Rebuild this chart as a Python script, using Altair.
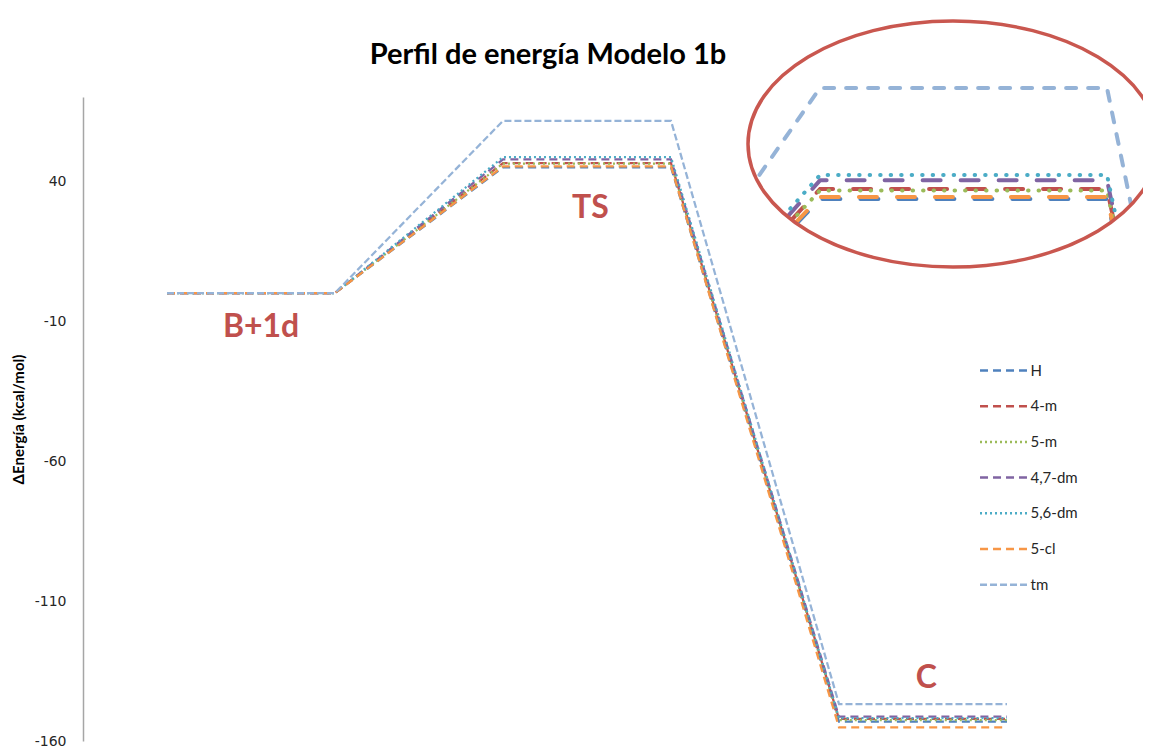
import altair as alt
import pandas as pd

# ---------------- data ----------------
series = ["H", "4-m", "5-m", "4,7-dm", "5,6-dm", "5-cl", "tm"]
colors = ["#4F81BD", "#C0504D", "#9BBB59", "#8064A2", "#4BACC6", "#F79646", "#95B3D7"]
dashes = [[8, 5], [8, 5], [2, 3], [8, 5], [2, 3], [8, 5], [7, 3]]
inset_dashes = [[18, 20], [18, 20], [0.5, 10], [18, 20], [0.5, 10], [18, 20], [10, 12]]

stage_x = [0, 1, 2, 3, 4, 5]
e_b1d = [0, 0, 0, 0, 0, 0, 0]
e_ts = [44.9, 46.4, 46.2, 47.7, 48.5, 45.2, 61.5]
e_c = [-153.1, -152.1, -152.5, -151.3, -151.8, -155.1, -146.8]

stage_labels = ["B+1d", "TS", "C"]
stage_label_x = [0.56, 2.52, 4.52]
stage_label_y = [-12.1, 30.4, -137.5]

y_ticks = [-160, -110, -60, -10, 40]
title_text = "Perfil de energía Modelo 1b"
y_title = "ΔEnergía (kcal/mol)"

rows = []
for i, s in enumerate(series):
    vals = [e_b1d[i], e_b1d[i], e_ts[i], e_ts[i], e_c[i], e_c[i]]
    for x, v in zip(stage_x, vals):
        rows.append({"serie": s, "x": x, "E": v})
df = pd.DataFrame(rows)
lab_df = pd.DataFrame({"lab": stage_labels, "x": stage_label_x, "E": stage_label_y})
one = pd.DataFrame({"t": [title_text]})

W, H = 1008, 644

legend_kw = dict(
    title=None, orient="none", legendX=909, legendY=262,
    symbolType="M -2.3,0 L 2.3,0", symbolSize=417, symbolStrokeWidth=2.5,
    labelFont="Lato", labelFontSize=15, labelColor="#262626",
    labelOffset=15.5, rowPadding=15.7, padding=0,
)

main_lines = alt.Chart(df).mark_line(strokeWidth=2.25).encode(
    x=alt.X("x:Q", scale=alt.Scale(domain=[-0.5, 5.5], nice=False, zero=False), axis=None),
    y=alt.Y(
        "E:Q",
        scale=alt.Scale(domain=[-160, 70], nice=False, zero=False),
        axis=alt.Axis(
            values=y_ticks, title=y_title, ticks=False, grid=False,
            labelExpr="'' + datum.value",
            domainColor="#A6A6A6", domainWidth=1.5,
            labelFont="DejaVu Sans", labelFontSize=14, labelColor="#262626", labelPadding=17,
            titleFont="Lato", titleFontWeight="bold", titleFontSize=15, titleColor="#000000",
            titleAngle=270, titleX=-65, titleY=H / 2, titleAlign="center", titleBaseline="middle",
            zindex=1,
        ),
    ),
    color=alt.Color("serie:N", scale=alt.Scale(domain=series, range=colors), legend=alt.Legend(**legend_kw)),
    strokeDash=alt.StrokeDash("serie:N", scale=alt.Scale(domain=series, range=dashes), legend=alt.Legend(**legend_kw)),
)

labels = alt.Chart(lab_df).mark_text(
    font="Lato", fontWeight="bold", fontSize=32, color="#C0504D", baseline="middle", align="center"
).encode(x="x:Q", y="E:Q", text="lab:N")

inset = alt.Chart(df).transform_filter("datum.x >= 1 && datum.x <= 4").mark_line(
    strokeWidth=4, strokeCap="round"
).encode(
    x=alt.X("x:Q", scale=alt.Scale(domain=[2, 3], range=[737, 1024], nice=False, zero=False), axis=None),
    y=alt.Y("E:Q", scale=alt.Scale(domain=[40, 60], range=[134.9, 1.0], nice=False, zero=False), axis=None),
    color=alt.Color("serie:N", scale=alt.Scale(domain=series, range=colors), legend=None),
    strokeDash=alt.StrokeDash("serie:N", scale=alt.Scale(domain=series, range=inset_dashes), legend=None),
)

mask_path = ("M -425,-130 L 220,-130 L 220,365 L -425,365 Z "
             "M -205,0 A 205,123 0 1,0 205,0 A 205,123 0 1,0 -205,0 Z")
ellipse_path = "M -205,0 A 205,123 0 1,1 205,0 A 205,123 0 1,1 -205,0 Z"

mask = alt.Chart(one).mark_point(
    shape=mask_path, filled=True, color="white", strokeWidth=0, opacity=1, size=4
).encode(x=alt.value(870), y=alt.value(47))

ellipse = alt.Chart(one).mark_point(
    shape=ellipse_path, filled=False, stroke="#C9574F", strokeWidth=3.5, opacity=1, size=4
).encode(x=alt.value(870), y=alt.value(47))

title_mark = alt.Chart(one).mark_text(
    font="Lato", fontWeight="bold", fontSize=29, color="#000000", align="center", baseline="middle"
).encode(x=alt.value(465), y=alt.value(-42), text="t:N")

chart = alt.layer(
    inset, mask, alt.layer(main_lines, labels), ellipse, title_mark
).resolve_scale(
    x="independent", y="independent", color="independent", strokeDash="independent"
).properties(
    width=W, height=H,
    padding={"left": 75, "top": 89, "right": 52, "bottom": 6},
    autosize="none",
).configure_view(stroke=None)

chart.save("out.html", embed_options={"renderer": "svg", "actions": False})
